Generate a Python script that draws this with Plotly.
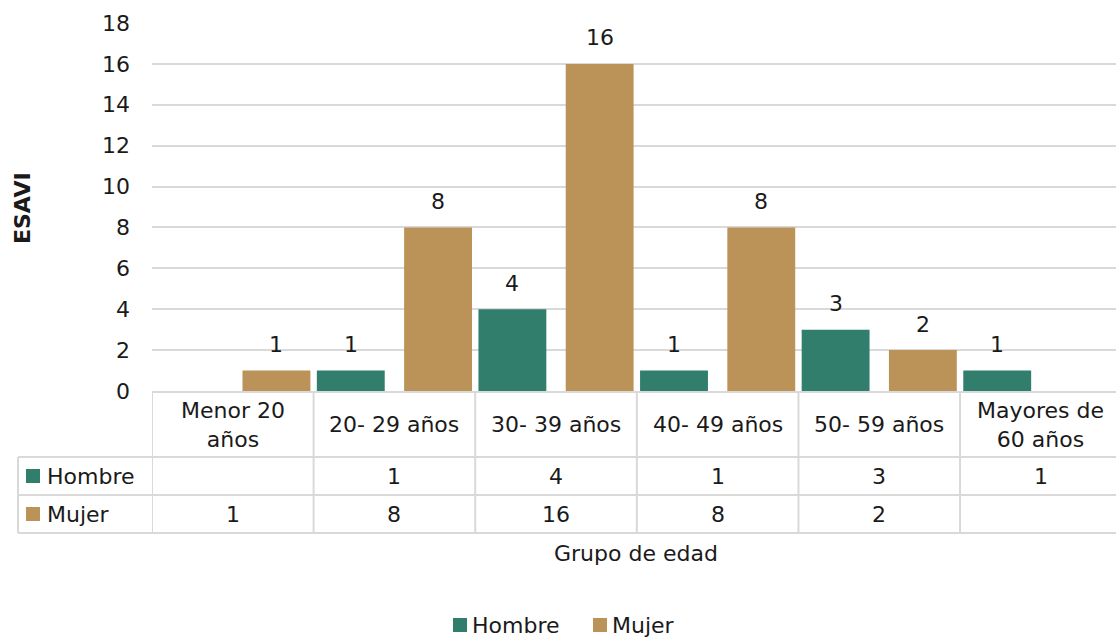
import plotly.graph_objects as go

# Age groups and counts of ESAVI by sex
categories = ["Menor 20<br>años", "20- 29 años", "30- 39 años", "40- 49 años",
              "50- 59 años", "Mayores de<br>60 años"]
hombre = [None, 1, 4, 1, 3, 1]
mujer = [1, 8, 16, 8, 2, None]
y_ticks = [0, 2, 4, 6, 8, 10, 12, 14, 16, 18]

series = [("Hombre", hombre, "#317E6D", -0.48),
          ("Mujer", mujer, "#BB9258", 0.06)]

W, H = 1116, 639
L, T = 152, 23
PW, PH = W - L, 368
B = H - T - PH
FONT = "DejaVu Sans"
TXT = "#1a1a1a"
LINE = "#d9d9d9"
FS = 22
BAR_W = 0.42


def fx(p):
    """pixel x -> paper x"""
    return (p - L) / PW


def fy(p):
    """pixel y -> paper y"""
    return (T + PH - p) / PH


xs = list(range(len(categories)))
fig = go.Figure()
annotations = []
shapes = []

for name, vals, color, off in series:
    fig.add_trace(go.Bar(
        x=xs, y=vals, name=name, marker=dict(color=color, line=dict(width=0)),
        width=BAR_W, offset=off, showlegend=False, hoverinfo="y+name"))
    for xi, v in zip(xs, vals):
        if v is None:
            continue
        annotations.append(dict(
            x=xi + off + BAR_W / 2, y=v, xref="x", yref="y", text=str(v),
            showarrow=False, yanchor="middle", yshift=26,
            font=dict(family=FONT, size=FS, color=TXT)))

# data table below the plot
row_tops = [392, 457, 495, 533]
# horizontal rules
shapes.append(dict(type="line", xref="paper", yref="paper", x0=0, x1=1,
                   y0=fy(row_tops[0]), y1=fy(row_tops[0]),
                   line=dict(color=LINE, width=2)))
for py in row_tops[1:]:
    shapes.append(dict(type="line", xref="paper", yref="paper", x0=fx(18), x1=1,
                       y0=fy(py), y1=fy(py), line=dict(color=LINE, width=2)))
# vertical rules
shapes.append(dict(type="line", xref="paper", yref="paper", x0=fx(18), x1=fx(18),
                   y0=fy(row_tops[1]), y1=fy(row_tops[3]),
                   line=dict(color=LINE, width=2)))
for i in range(len(categories)):
    shapes.append(dict(type="line", xref="x", yref="paper", x0=i - 0.5, x1=i - 0.5,
                       y0=fy(row_tops[0]), y1=fy(row_tops[3]),
                       line=dict(color=LINE, width=2)))

# header row: category names
for xi, c in zip(xs, categories):
    annotations.append(dict(
        x=xi, y=fy((row_tops[0] + row_tops[1]) / 2), xref="x", yref="paper",
        text=c, showarrow=False, yanchor="middle", align="center",
        font=dict(family=FONT, size=FS, color=TXT)))

# series rows with legend keys and values
for r, (name, vals, color, off) in enumerate(series):
    top, bot = row_tops[r + 1], row_tops[r + 2]
    mid = (top + bot) / 2
    shapes.append(dict(type="rect", xref="paper", yref="paper",
                       x0=fx(26), x1=fx(40), y0=fy(mid - 7), y1=fy(mid + 7),
                       fillcolor=color, line=dict(width=0)))
    annotations.append(dict(
        x=fx(45), y=fy(mid), xref="paper", yref="paper", text=name,
        showarrow=False, xanchor="left", yanchor="middle",
        font=dict(family=FONT, size=FS, color=TXT)))
    for xi, v in zip(xs, vals):
        if v is None:
            continue
        annotations.append(dict(
            x=xi, y=fy(mid), xref="x", yref="paper", text=str(v),
            showarrow=False, yanchor="middle",
            font=dict(family=FONT, size=FS, color=TXT)))

# axis titles
annotations.append(dict(
    x=fx(22), y=fy(208), xref="paper", yref="paper", text="<b>ESAVI</b>",
    textangle=-90, showarrow=False, xanchor="center", yanchor="middle",
    font=dict(family=FONT, size=FS, color=TXT)))
annotations.append(dict(
    x=fx(636), y=fy(553), xref="paper", yref="paper", text="Grupo de edad",
    showarrow=False, xanchor="center", yanchor="middle",
    font=dict(family=FONT, size=FS, color=TXT)))

# bottom legend
leg_y = 625
for sx, tx, (name, vals, color, off) in zip([453, 593], [470, 610], series):
    shapes.append(dict(type="rect", xref="paper", yref="paper",
                       x0=fx(sx), x1=fx(sx + 14), y0=fy(leg_y - 7), y1=fy(leg_y + 7),
                       fillcolor=color, line=dict(width=0)))
    annotations.append(dict(
        x=fx(tx), y=fy(leg_y), xref="paper", yref="paper", text=name,
        showarrow=False, xanchor="left", yanchor="middle",
        font=dict(family=FONT, size=FS, color=TXT)))

fig.update_layout(
    width=W, height=H,
    margin=dict(l=L, r=0, t=T, b=B, pad=0),
    paper_bgcolor="white", plot_bgcolor="white",
    barmode="overlay",
    font=dict(family=FONT, size=FS, color=TXT),
    xaxis=dict(range=[-0.5, len(categories) - 0.5 - 0.035], showticklabels=False,
               showgrid=False, zeroline=False, showline=False, fixedrange=True),
    yaxis=dict(range=[0, 18], tickvals=y_ticks, showgrid=True, gridcolor=LINE,
               gridwidth=1.5, zeroline=False, showline=False,
               ticklabelstandoff=21,
               tickfont=dict(family=FONT, size=FS, color=TXT)),
    shapes=shapes,
    annotations=annotations,
    showlegend=False,
)

fig.write_html("out.html")
